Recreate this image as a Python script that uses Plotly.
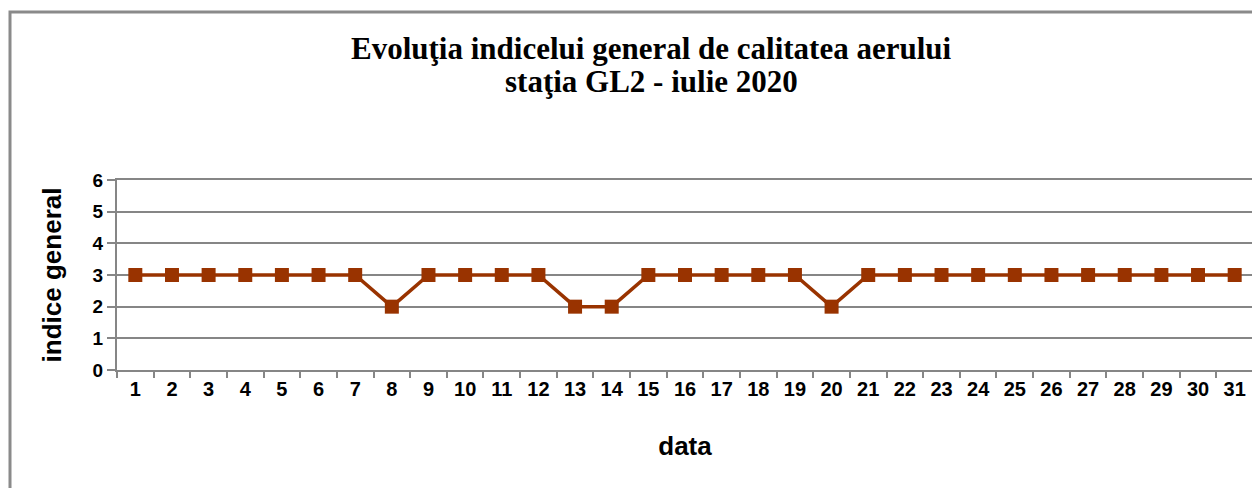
import plotly.graph_objects as go

days = [str(d) for d in range(1, 32)]
indice = [3, 3, 3, 3, 3, 3, 3, 2, 3, 3, 3, 3, 2, 2, 3, 3, 3, 3, 3, 2,
          3, 3, 3, 3, 3, 3, 3, 3, 3, 3, 3]
y_ticks = [0, 1, 2, 3, 4, 5, 6]
title_lines = ["Evoluţia indicelui general de calitatea aerului",
               "staţia GL2 - iulie 2020"]

# page body has an 8px margin, so the figure is sized/placed to compensate
W, H = 1252, 480
L, R, T, B = 109, 7, 172, 118
pw, ph = W - L - R, H - T - B

fig = go.Figure()
fig.add_trace(go.Scatter(
    x=days, y=indice, mode="lines+markers",
    line=dict(color="#993300", width=3.5),
    marker=dict(symbol="square", size=14, color="#993300"),
    showlegend=False,
))

grid = "#868686"
fig.update_layout(
    width=W, height=H,
    margin=dict(l=L, r=R, t=T, b=B, autoexpand=False),
    paper_bgcolor="white", plot_bgcolor="white",
    font=dict(family="Liberation Sans", color="black"),
    xaxis=dict(
        type="category", tickson="boundaries", range=[-0.5, 30.5],
        automargin=False,
        showline=True, linecolor=grid, linewidth=2, mirror=True,
        ticks="outside", ticklen=6, tickcolor=grid, tickwidth=2,
        showgrid=False,
        tickfont=dict(family="Liberation Sans", size=20, weight="bold"),
        title=dict(text="data", font=dict(family="Liberation Sans", size=26, weight="bold"), standoff=38),
    ),
    yaxis=dict(
        range=[0, 6], tickvals=y_ticks, automargin=False,
        showline=True, linecolor=grid, linewidth=2, mirror=True,
        ticks="outside", ticklen=8, tickcolor=grid, tickwidth=2,
        showgrid=True, gridcolor=grid, gridwidth=2,
        zeroline=False,
        tickfont=dict(family="Liberation Sans", size=19, weight="bold"),
        title=dict(text="indice general", font=dict(family="Liberation Sans", size=26, weight="bold"), standoff=24),
    ),
)

# two-line title as annotations (tighter line spacing)
title_font = dict(family="Liberation Serif", size=31, color="black", weight="bold")
for line, ypx in zip(title_lines, [40, 74]):
    fig.add_annotation(
        text=line, xref="paper", yref="paper",
        x=(643 - L) / pw, y=(H - B - ypx) / ph,
        xanchor="center", yanchor="middle", showarrow=False,
        font=title_font,
    )

# outer chart border (left and top visible)
x_left = (2 - L) / pw
y_top = (H - B - 4) / ph
fig.add_shape(type="rect", xref="paper", yref="paper",
              x0=x_left, x1=1.2, y0=-1.0, y1=y_top,
              line=dict(color="#8a8a8a", width=3), layer="below")

fig.write_html("out.html")
